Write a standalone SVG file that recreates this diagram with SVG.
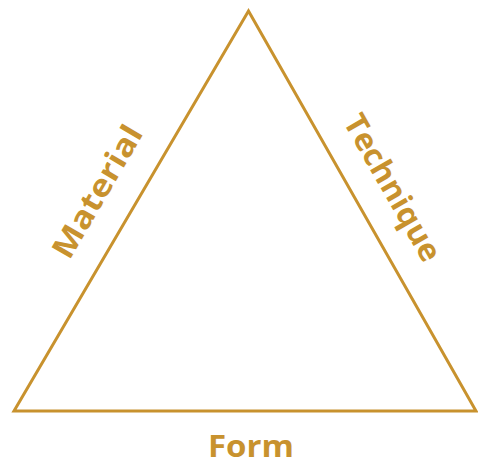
<svg xmlns="http://www.w3.org/2000/svg" width="478" height="468" viewBox="0 0 478 468">
<style>
.edge{fill:none;stroke:#C8922E;stroke-width:3;stroke-linejoin:miter;}
.lbl{font-family:"Open Sans","Liberation Sans",sans-serif;font-weight:700;fill:#C8922E;font-size:31px;}
</style>
<rect width="478" height="468" fill="#ffffff"/>
<g id="connectors">
<polygon class="edge" points="248.5,11 14,411 476,411"/>
</g>
<g id="material">
<text class="lbl" text-anchor="middle" transform="translate(98,192) rotate(-59.7)" dy="10" textLength="148" lengthAdjust="spacingAndGlyphs">Material</text>
</g>
<g id="technique">
<text class="lbl" text-anchor="middle" transform="translate(392,188) rotate(60.3)" dy="10" textLength="164" lengthAdjust="spacingAndGlyphs">Technique</text>
</g>
<g id="form">
<text class="lbl" x="251" y="457" text-anchor="middle" textLength="86" lengthAdjust="spacingAndGlyphs">Form</text>
</g>
</svg>
